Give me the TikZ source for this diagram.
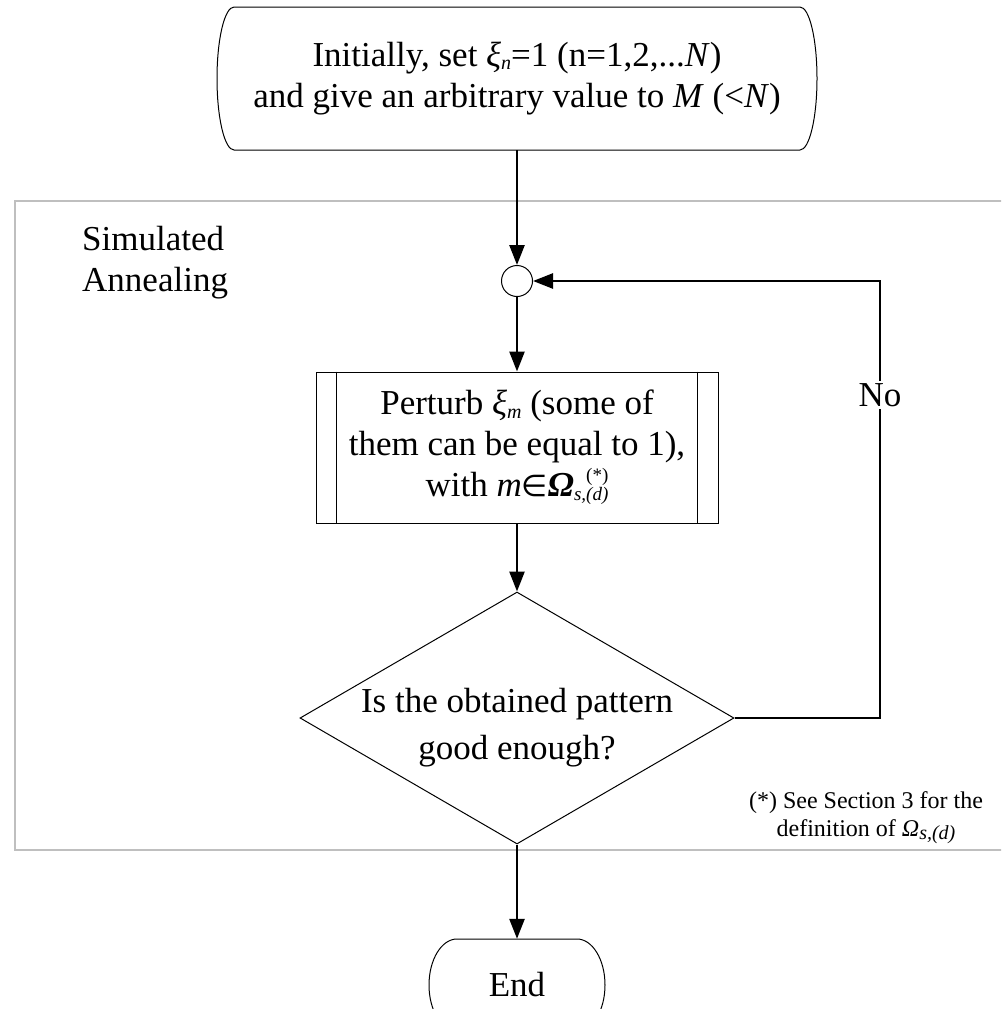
\documentclass[tikz,border=0pt]{standalone}
\usepackage{fontspec}
\setmainfont{Liberation Serif}
\newfontfamily\symfont{DejaVu Sans}
\usetikzlibrary{arrows.meta,shapes.geometric}
\newcommand\sbs[1]{{\fontsize{20}{20}\selectfont\raisebox{-0.35ex}{\textit{#1}}}}
\newcommand\sbsup[2]{{\fontsize{19}{19}\selectfont\raisebox{-0.45ex}{\textit{#1}}\llap{\raisebox{1.75ex}{#2}}}}
\begin{document}
\begin{tikzpicture}[x=1pt,y=-1pt,
  txt/.style={font=\fontsize{35}{41}\selectfont, align=center, inner sep=0pt},
  flow/.style={line width=2.6pt, -{Triangle[length=20pt,width=15pt]}},
  outline/.style={draw=black, line width=1pt},
  framebox/.style={draw=black!25, line width=2pt}]
\useasboundingbox (0,0) rectangle (1001,1009);
\clip (0,0) rectangle (1001,1009);
% frame
\draw[framebox] (15,201) rectangle (1008,850);
\node[txt, align=left, anchor=north west] (sa) at (82,226) {Simulated\\Annealing};
% start box
\node[txt, minimum width=566pt, minimum height=143pt] (init) at (517,78.5)
  {Initially, set \textit{ξ}\sbs{n}=1 (n=1,2,...\textit{N})\\and give an arbitrary value to \textit{M} (<\textit{N})};
\draw[outline] (234,7) -- (800,7) arc[start angle=-90,end angle=90,x radius=17,y radius=71.5]
  -- (234,150) arc[start angle=90,end angle=270,x radius=17,y radius=71.5] -- cycle;
% junction
\node[outline, circle, minimum size=31pt, inner sep=0pt] (join) at (517,281) {};
% perturb
\node[txt, outline, minimum width=402pt, minimum height=151pt] (perturb) at (517,447.5)
  {Perturb \textit{ξ}\sbs{m} (some of\\them can be equal to 1),\\with \textit{m}{\symfont\fontsize{30}{30}\selectfont ∈}\textbf{\textit{Ω}}\sbsup{s,(d)}{(*)}};
\draw[line width=1pt] ([xshift=21pt]perturb.north west) -- ([xshift=21pt]perturb.south west);
\draw[line width=1pt] ([xshift=-21pt]perturb.north east) -- ([xshift=-21pt]perturb.south east);
% decision
\node[outline, diamond, minimum width=434pt, minimum height=252pt, inner sep=0pt] (dec) at (517,718) {};
\node[txt, font=\fontsize{35}{47}\selectfont] (dectxt) at (517,728) {Is the obtained pattern\\good enough?};
% end
\node[txt, minimum width=176pt, minimum height=92pt] (end) at (517,985) {End};
\draw[outline] (457,939) -- (577,939) arc[start angle=-90,end angle=90,x radius=28,y radius=46]
  -- (457,1031) arc[start angle=90,end angle=270,x radius=28,y radius=46] -- cycle;
% footnote
\node[font=\fontsize{24}{28}\selectfont, align=center, inner sep=0pt] (note) at (866,818)
  {(*) See Section 3 for the\\definition of \textit{Ω}\sbs{s,(d)}};
% connectors
\coordinate (noc) at (880,718);
\coordinate (not) at (880,281);
\draw[flow] (init.south) -- (join.north);
\draw[flow] (join.south) -- (perturb.north);
\draw[flow] (perturb.south) -- (dec.north);
\draw[flow] (dec.south) -- (end.north);
\draw[flow] (dec.east) -- (noc) -- (not) -- (join.east);
\node[txt, fill=white, inner sep=2pt] (nolab) at (880,395) {No};
\end{tikzpicture}
\end{document}
